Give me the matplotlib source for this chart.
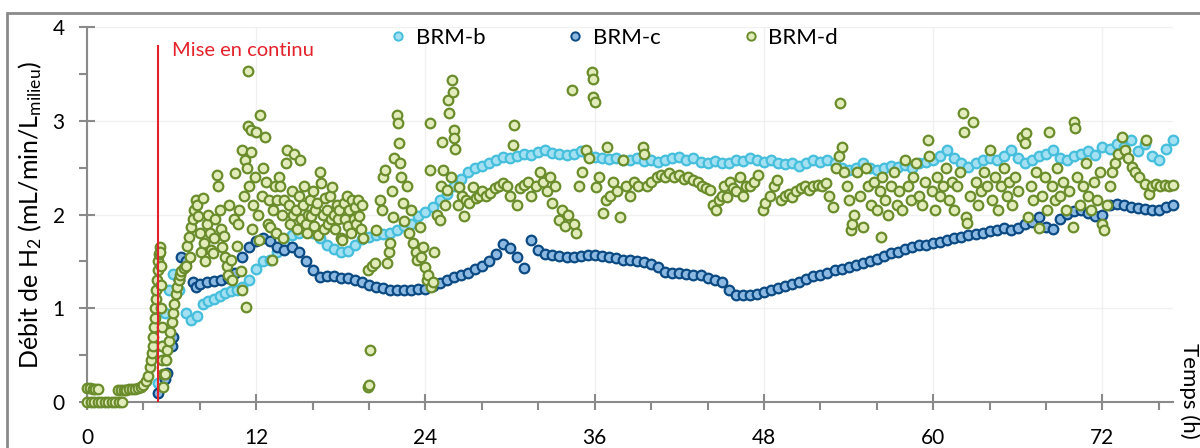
import matplotlib
matplotlib.use("Agg")
import matplotlib.pyplot as plt
from matplotlib.lines import Line2D
from matplotlib.patches import Rectangle

plt.rcParams['font.family'] = ['Lato', 'DejaVu Sans']
plt.rcParams['mathtext.default'] = 'regular'

# ---------------- data (hours, mL/min/L) ----------------
series_names = ["BRM-b", "BRM-c", "BRM-d"]

b_t = [5.0, 5.3, 5.5, 5.8, 6.1, 6.5, 7.0, 7.4, 7.8, 8.2, 8.6, 9.0, 9.4, 9.8, 10.2, 10.6, 11.0, 11.5,
       12, 12.5, 13, 13.5, 14, 14.5, 15, 15.5, 16, 16.5, 17, 17.5, 18, 18.5, 19, 19.5, 20, 20.5, 21, 21.5,
       22, 22.5, 23, 23.5, 24, 24.5, 25, 25.5, 26, 26.5, 27, 27.5, 28, 28.5, 29, 29.5, 30, 30.5, 31, 31.5,
       32, 32.5, 33, 33.5, 34, 34.5, 35, 35.5, 36, 36.5, 37, 37.5, 38, 38.5, 39, 39.5, 40, 40.5, 41, 41.5,
       42, 42.5, 43, 43.5, 44, 44.5, 45, 45.5, 46, 46.5, 47, 47.5, 48, 48.5, 49, 49.5, 50, 50.5, 51, 51.5,
       52, 52.5, 53, 53.5, 54, 54.5, 55, 55.5, 56, 56.5, 57, 57.5, 58, 58.5, 59, 59.5, 60, 60.5, 61, 61.5,
       62, 62.5, 63, 63.5, 64, 64.5, 65, 65.5, 66, 66.5, 67, 67.5, 68, 68.5, 69, 69.5, 70, 70.5, 71, 71.5,
       72, 72.5, 73, 73.5, 74, 74.5, 75, 75.5, 76, 76.5, 77]
b_v = [0.20, 0.60, 0.95, 1.20, 1.37, 1.20, 0.95, 0.87, 0.92, 1.05, 1.08, 1.10, 1.13, 1.16, 1.18, 1.20, 1.23, 1.30,
       1.42, 1.50, 1.52, 1.60, 1.70, 1.78, 1.80, 1.82, 1.80, 1.75, 1.68, 1.63, 1.60, 1.61, 1.68, 1.74, 1.76, 1.78, 1.79, 1.80,
       1.84, 1.88, 1.90, 1.98, 2.03, 2.08, 2.15, 2.22, 2.30, 2.38, 2.45, 2.50, 2.52, 2.55, 2.58, 2.61, 2.60, 2.62, 2.65, 2.63,
       2.67, 2.69, 2.66, 2.65, 2.63, 2.65, 2.68, 2.64, 2.61, 2.60, 2.59, 2.60, 2.58, 2.58, 2.60, 2.57, 2.58, 2.56, 2.58, 2.60,
       2.61, 2.58, 2.60, 2.56, 2.55, 2.57, 2.55, 2.55, 2.58, 2.57, 2.60, 2.58, 2.56, 2.58, 2.55, 2.54, 2.55, 2.52, 2.55, 2.58,
       2.56, 2.58, 2.55, 2.50, 2.47, 2.50, 2.55, 2.50, 2.48, 2.50, 2.52, 2.51, 2.53, 2.50, 2.55, 2.56, 2.58, 2.62, 2.69, 2.60,
       2.55, 2.51, 2.55, 2.58, 2.60, 2.58, 2.62, 2.69, 2.60, 2.55, 2.58, 2.62, 2.65, 2.69, 2.60, 2.58, 2.62, 2.65, 2.68, 2.63,
       2.72, 2.70, 2.75, 2.72, 2.79, 2.68, 2.75, 2.62, 2.58, 2.70, 2.79]

c_t = [5.0, 5.5, 5.7, 6.0, 6.1, 6.5, 6.7, 7.0, 7.5, 7.7, 8, 8.5, 9, 9.5, 10, 10.5, 11, 11.5,
       12, 12.5, 13, 13.5, 14, 14.5, 15, 15.5, 16, 16.5, 17, 17.5, 18, 18.5, 19, 19.5, 20, 20.5, 21, 21.5,
       22, 22.5, 23, 23.5, 24, 24.5, 25, 25.5, 26, 26.5, 27, 27.5, 28, 28.5, 29, 29.5, 30, 30.5, 31, 31.5,
       32, 32.5, 33, 33.5, 34, 34.5, 35, 35.5, 36, 36.5, 37, 37.5, 38, 38.5, 39, 39.5, 40, 40.5, 41, 41.5,
       42, 42.5, 43, 43.5, 44, 44.5, 45, 45.5, 46, 46.5, 47, 47.5, 48, 48.5, 49, 49.5, 50, 50.5, 51, 51.5,
       52, 52.5, 53, 53.5, 54, 54.5, 55, 55.5, 56, 56.5, 57, 57.5, 58, 58.5, 59, 59.5, 60, 60.5, 61, 61.5,
       62, 62.5, 63, 63.5, 64, 64.5, 65, 65.5, 66, 66.5, 67, 67.5, 68, 68.5, 69, 69.5, 70, 70.5, 71, 71.5,
       72, 72.5, 73, 73.5, 74, 74.5, 75, 75.5, 76, 76.5, 77]
c_v = [0.10, 0.25, 0.31, 0.60, 0.69, 1.30, 1.55, 1.50, 1.28, 1.23, 1.26, 1.28, 1.29, 1.30, 1.32, 1.38, 1.55, 1.65,
       1.72, 1.75, 1.72, 1.65, 1.62, 1.65, 1.60, 1.50, 1.41, 1.33, 1.34, 1.34, 1.32, 1.32, 1.30, 1.28, 1.25, 1.23, 1.22, 1.20,
       1.19, 1.19, 1.20, 1.21, 1.21, 1.24, 1.27, 1.30, 1.33, 1.36, 1.38, 1.42, 1.45, 1.50, 1.58, 1.69, 1.64, 1.55, 1.43, 1.73,
       1.62, 1.58, 1.57, 1.56, 1.55, 1.55, 1.56, 1.57, 1.57, 1.56, 1.55, 1.54, 1.52, 1.52, 1.50, 1.49, 1.47, 1.44, 1.39, 1.38,
       1.38, 1.37, 1.36, 1.35, 1.32, 1.30, 1.28, 1.20, 1.14, 1.14, 1.14, 1.15, 1.17, 1.19, 1.22, 1.24, 1.26, 1.28, 1.31, 1.34,
       1.36, 1.38, 1.41, 1.42, 1.44, 1.46, 1.48, 1.50, 1.53, 1.56, 1.59, 1.60, 1.63, 1.65, 1.67, 1.68, 1.70, 1.71, 1.73, 1.75,
       1.76, 1.78, 1.79, 1.80, 1.82, 1.84, 1.86, 1.83, 1.86, 1.90, 1.92, 1.97, 1.87, 1.85, 1.95, 2.01, 2.04, 2.05, 2.02, 1.98,
       2.00, 2.10, 2.11, 2.10, 2.08, 2.07, 2.06, 2.05, 2.05, 2.08, 2.10]

d_t = [0, 0.25, 0.5, 0.75, 1.0, 1.25, 1.5, 1.75, 2.0, 2.25, 2.5,
       0, 0.2, 0.4, 0.6, 0.8,
       2.2, 2.4, 2.6, 2.8, 3.0, 3.2, 3.4, 3.6, 3.8, 4.0, 4.2, 4.35, 4.45, 4.55, 4.6, 4.65, 4.7, 4.75, 4.8, 4.83,
       4.87, 4.9, 4.95, 5.0, 5.05, 5.1, 5.15, 5.2,
       5.22, 5.25, 5.28, 5.3, 5.33, 5.35, 5.38, 5.4,
       5.5, 5.6, 5.7, 5.8, 5.9, 6.0, 6.1, 6.2, 6.3, 6.4, 6.5, 6.6, 6.7, 6.85, 7.0,
       7.1, 7.2, 7.3, 7.4, 7.5, 7.6, 7.7, 7.8, 7.9, 8.0, 8.1, 8.2, 8.3, 8.4, 8.5, 8.6, 8.7, 8.8, 8.9, 9.0,
       9.1, 9.2, 9.3, 9.4, 9.5, 9.6, 9.7, 9.8, 9.9, 10.0, 10.1, 10.2, 10.3, 10.4, 10.5, 10.6, 10.7, 10.8, 10.9,
       11.0, 11.0, 11.1, 11.2, 11.3, 11.35, 11.4, 11.45, 11.5, 11.6, 11.6, 11.7, 11.8, 11.9, 12.0, 12.1, 12.2,
       12.3, 12.4, 12.5, 12.6, 12.7, 12.8, 12.9, 13.0, 13.1, 13.2, 13.3, 13.4, 13.5, 13.6, 13.7, 13.8, 13.9,
       14.0, 14.1, 14.2, 14.3, 14.4, 14.5, 14.6, 14.7, 14.8, 14.9, 15.0, 15.1, 15.2, 15.3, 15.4, 15.5, 15.6,
       15.7, 15.8, 15.9, 16.0, 16.1, 16.2, 16.3, 16.4, 16.5, 16.6, 16.7, 16.8, 16.9, 17.0, 17.1, 17.2, 17.3,
       17.4, 17.5, 17.6, 17.7, 17.8, 17.9, 18.0, 18.1, 18.2, 18.3, 18.4, 18.5, 18.6, 18.7, 18.8, 18.9, 19.0,
       19.1, 19.2, 19.3, 19.4, 19.5, 19.6,
       19.9, 19.95, 20.0, 20.05, 20.2, 20.4, 20.5,
       20.8, 20.9, 21.0, 21.1, 21.3, 21.4, 21.5, 21.6, 21.7, 21.8, 22.0, 22.05, 22.1, 22.2, 22.25, 22.4, 22.5,
       22.7, 22.8, 23.0, 23.1, 23.3, 23.4, 23.6, 23.7, 23.8, 24.0, 24.1, 24.2, 24.3, 24.35, 24.4, 24.5, 24.6,
       24.8, 25.0, 25.1, 25.2, 25.25, 25.4, 25.5, 25.6, 25.65, 25.8, 25.9, 25.95, 26.0, 26.05, 26.1, 26.3, 26.4,
       26.6, 26.7, 26.9, 27.1, 27.4, 27.6, 27.8, 28.0, 28.3, 28.6, 28.9, 29.2, 29.5, 29.8, 30.0, 30.2, 30.3,
       30.5, 30.7, 31.0, 31.3, 31.5, 31.8, 32.1, 32.3, 32.6, 32.8, 33.0, 33.2, 33.5, 33.7, 33.9, 34.1, 34.4,
       34.5, 34.7, 34.9, 35.1, 35.4, 35.6, 35.8, 35.85, 35.9, 36.0, 36.1, 36.3, 36.6, 36.8, 36.9, 37.1, 37.3,
       37.6, 37.8, 38.0, 38.2, 38.5, 38.8, 39.1, 39.4, 39.5, 39.7, 40.0, 40.4, 40.7, 41.0, 41.3, 41.6, 42.0,
       42.3, 42.6, 43.0, 43.3, 43.6, 43.9, 44.2, 44.4, 44.6, 44.8, 45.0, 45.2, 45.4, 45.6, 45.8, 46.0, 46.3,
       46.5, 46.7, 47.0, 47.3, 47.6, 47.9, 48.1, 48.4, 48.7, 48.9, 49.2, 49.5, 49.8, 50.0, 50.3, 50.6, 50.9,
       51.2, 51.5, 51.8, 52.1, 52.4, 52.6, 52.9, 53.1, 53.3, 53.4, 53.5, 53.7, 53.9, 54.0, 54.2, 54.25, 54.4,
       54.6, 54.8, 55.0, 55.2, 55.4, 55.6, 55.8, 56.0, 56.2, 56.3, 56.4, 56.6, 56.8, 57.0, 57.2, 57.4, 57.6,
       57.8, 58.0, 58.2, 58.4, 58.6, 58.8, 59.0, 59.2, 59.4, 59.6, 59.7, 59.9, 60.1, 60.3, 60.5, 60.7, 60.9,
       61.1, 61.3, 61.5, 61.7, 61.9, 62.1, 62.15, 62.3, 62.4, 62.6, 62.8, 63.0, 63.2, 63.4, 63.6, 63.8, 64.0,
       64.2, 64.4, 64.6, 64.8, 65.0, 65.2, 65.4, 65.6, 65.8, 66.0, 66.3, 66.5, 66.6, 66.7, 66.9, 67.1, 67.3,
       67.5, 67.7, 67.9, 68.1, 68.2, 68.4, 68.6, 68.8, 69.0, 69.2, 69.4, 69.6, 69.9, 70.0, 70.05, 70.2, 70.4,
       70.6, 70.8, 71.0, 71.2, 71.4, 71.6, 71.8, 72.0, 72.1, 72.3, 72.5, 72.7, 72.9, 73.1, 73.4, 73.6, 73.8,
       74.1, 74.3, 74.6, 75.0, 75.1, 75.3, 75.5, 75.8, 76.1, 76.4, 76.7, 77.0]
d_v = [0.0, 0.0, 0.0, 0.0, 0.0, 0.0, 0.0, 0.0, 0.0, 0.0, 0.0,
       0.15, 0.15, 0.14, 0.14, 0.14,
       0.13, 0.13, 0.13, 0.13, 0.14, 0.14, 0.14, 0.15, 0.16, 0.18, 0.22, 0.28, 0.37, 0.45, 0.52, 0.60, 0.69, 0.80, 0.90, 1.00,
       1.10, 1.20, 1.30, 1.41, 1.50, 1.58, 1.65, 1.60,
       1.45, 1.25, 1.00, 0.80, 0.60, 0.45, 0.30, 0.16,
       0.30, 0.45, 0.55, 0.65, 0.75, 0.85, 0.95, 1.05, 1.15, 1.23, 1.30, 1.36, 1.40, 1.43, 1.45,
       1.66, 1.76, 1.55, 1.87, 1.95, 2.05, 2.15, 2.10, 1.98, 1.80, 1.60, 2.18, 1.70, 1.50, 1.90, 2.00, 1.80, 1.62, 1.59, 1.75,
       1.95, 2.42, 2.30, 2.05, 1.85, 1.65, 1.77, 1.55, 1.45, 1.35, 2.10, 1.51, 1.30, 1.95, 2.44, 1.66, 1.90, 2.05, 1.40,
       1.19, 2.69, 2.20, 2.58, 1.01, 2.50, 3.53, 2.94, 2.30, 2.67, 2.90, 1.85, 2.10, 2.40, 2.88, 2.00, 1.73,
       3.06, 2.20, 2.50, 2.83, 2.35, 1.90, 2.15, 1.87, 1.51, 2.05, 2.30, 1.80, 2.15, 2.40, 2.30, 2.00, 1.75,
       2.15, 2.55, 2.69, 2.10, 1.90, 2.25, 2.00, 2.65, 2.05, 1.85, 2.20, 2.58, 1.95, 2.10, 2.30, 1.90, 1.80,
       2.00, 2.15, 1.98, 2.25, 1.88, 2.05, 2.12, 1.78, 2.45, 2.34, 2.00, 1.85, 2.18, 2.05, 1.90, 2.20, 1.95,
       2.29, 2.00, 1.85, 2.10, 1.95, 2.05, 1.75, 1.73, 2.12, 1.95, 2.20, 1.88, 2.05, 1.80, 2.15, 1.95, 2.08,
       1.90, 2.15, 1.98, 1.85, 2.10, 1.75,
       1.41, 0.16, 0.18, 0.55, 1.45, 1.48, 1.83,
       2.15, 2.05, 2.40, 2.47, 1.48, 1.60, 1.70, 2.25, 1.97, 2.60, 3.06, 2.98, 2.76, 2.55, 2.40, 2.12, 1.93,
       2.30, 1.80, 2.05, 1.70, 1.60, 1.51, 1.87, 1.55, 1.65, 1.44, 1.30, 1.35, 2.98, 2.47, 1.23, 1.28, 1.60,
       2.00, 1.94, 2.30, 2.77, 2.47, 2.10, 2.26, 3.22, 3.08, 2.40, 3.43, 3.31, 2.90, 2.82, 2.70, 2.10, 2.29,
       2.20, 1.98, 2.15, 2.12, 2.29, 2.18, 2.20, 2.25, 2.20, 2.23, 2.28, 2.30, 2.34, 2.30, 2.20, 2.74, 2.95,
       2.10, 2.28, 2.32, 2.35, 2.20, 2.30, 2.45, 2.35, 2.25, 2.40, 2.12, 2.30, 1.94, 2.05, 1.88, 2.00, 3.33,
       1.90, 1.80, 2.30, 2.45, 2.69, 2.60, 3.52, 3.45, 3.25, 3.20, 2.29, 2.40, 2.02, 2.15, 2.72, 2.20, 2.35,
       2.25, 1.97, 2.58, 2.30, 2.20, 2.35, 2.30, 2.72, 2.65, 2.30, 2.35, 2.40, 2.42, 2.40, 2.44, 2.40, 2.42,
       2.38, 2.40, 2.37, 2.35, 2.30, 2.28, 2.26, 2.10, 2.05, 2.15, 2.20, 2.30, 2.19, 2.35, 2.28, 2.25, 2.40,
       2.20, 2.30, 2.30, 2.35, 2.42, 2.05, 2.12, 2.20, 2.30, 2.37, 2.15, 2.20, 2.22, 2.19, 2.25, 2.28, 2.30,
       2.26, 2.30, 2.32, 2.30, 2.34, 2.20, 2.08, 2.50, 2.62, 3.19, 2.72, 2.45, 2.30, 2.15, 1.83, 1.90, 2.00,
       2.45, 2.20, 1.87, 2.50, 2.30, 2.10, 2.35, 2.05, 2.25, 1.76, 2.40, 2.15, 2.00, 2.30, 2.45, 2.10, 2.25,
       2.05, 2.58, 2.30, 2.15, 2.40, 2.55, 2.20, 2.10, 2.35, 2.79, 2.62, 2.25, 2.05, 2.40, 2.20, 2.30, 2.50,
       2.15, 2.35, 2.05, 2.30, 2.45, 3.08, 2.88, 1.97, 1.91, 2.20, 2.99, 2.35, 2.10, 2.25, 2.45, 2.30, 2.69,
       2.15, 2.40, 2.05, 2.30, 2.50, 2.20, 2.35, 2.10, 2.40, 2.25, 2.83, 2.76, 2.87, 1.97, 2.30, 2.15, 2.45,
       1.86, 2.20, 2.40, 2.05, 2.88, 2.30, 2.15, 2.50, 2.20, 2.35, 2.05, 2.25, 1.87, 2.99, 2.92, 2.40, 2.10,
       2.30, 2.55, 2.20, 2.05, 2.35, 2.15, 2.45, 1.90, 1.83, 2.10, 2.30, 2.45, 2.55, 2.65, 2.83, 2.69, 2.60,
       2.51, 2.45, 2.40, 2.33, 2.79, 2.22, 2.30, 2.33, 2.30, 2.32, 2.30, 2.31]

x_ticks = [0, 12, 24, 36, 48, 60, 72]
y_ticks = [0, 1, 2, 3, 4]
feed_start_h = 5.0

# ---------------- style ----------------
edge_cols = ['#45bfdc', '#0b4a83', '#6a8c2b']
face_cols = ['#a3e0f1', '#8cb9e2', '#e2ecba']
grey = '#8a8a8a'

fig = plt.figure(figsize=(12, 4.48), dpi=100)
W, H = 1200, 448
ax = fig.add_axes([87 / W, 1 - 402 / H, (1173 - 87) / W, (402 - 27) / H])
ax.set_xlim(0, 77)
ax.set_ylim(0, 4)

ms = 48
lw = 1.6
for t, v, ec, fc, z in [(b_t, b_v, edge_cols[0], face_cols[0], 2),
                        (c_t, c_v, edge_cols[1], face_cols[1], 3),
                        (d_t, d_v, edge_cols[2], face_cols[2], 4)]:
    ax.scatter(t, v, s=ms, facecolors=fc, edgecolors=ec, linewidths=lw, zorder=z, clip_on=False)

ax.plot([feed_start_h, feed_start_h], [0, 3.8], color='#e3232c', lw=1.5, zorder=6)
ax.text(feed_start_h + 1.0, 3.75, 'Mise en continu', color='#e3232c', fontsize=14.5,
        va='center', ha='left')

for s in ['top', 'right']:
    ax.spines[s].set_visible(False)
for s in ['left', 'bottom']:
    ax.spines[s].set_color(grey)
    ax.spines[s].set_linewidth(1.5)

ax.set_xticks(x_ticks)
ax.set_xticks([4, 8, 16, 20, 28, 32, 40, 44, 52, 56, 64, 68, 76], minor=True)
ax.set_yticks(y_ticks)
ax.set_yticks([0.5, 1.5, 2.5, 3.5], minor=True)
ax.tick_params(axis='x', which='major', direction='inout', length=12, width=1.5, color=grey,
               labelsize=15, pad=13)
ax.tick_params(axis='x', which='minor', direction='out', length=6, width=1.5, color=grey)
ax.tick_params(axis='y', which='major', direction='inout', length=12, width=1.5, color=grey,
               labelsize=15, pad=10)
ax.tick_params(axis='y', which='minor', direction='out', length=6, width=1.5, color=grey)
ax.grid(True, which='major', color='#f0f0f0', lw=1, zorder=0)
ax.set_axisbelow(True)

fig.text(30 / W, 1 - 215 / H, 'Débit de H$_2$ (mL/min/L$_{milieu}$)', rotation=90,
         ha='center', va='center', fontsize=18)
fig.text(1189 / W, 1 - 343 / H, 'Temps (h)', rotation=270, ha='center', va='top', fontsize=16)

handles = [Line2D([], [], ls='none', marker='o', markersize=6, markerfacecolor=fc,
                  markeredgecolor=ec, markeredgewidth=1.4) for ec, fc in zip(edge_cols, face_cols)]
fig.legend(handles, series_names, loc='center left', bbox_to_anchor=(390 / W, 1 - 38 / H),
           ncol=3, frameon=False, fontsize=16, handlelength=0.7, handletextpad=0.45,
           columnspacing=3.7, borderaxespad=0, borderpad=0)

fig.add_artist(Rectangle((7 / W, -0.1), 1.2, (H - 13) / H + 0.1, transform=fig.transFigure,
                         fill=False, edgecolor=grey, lw=2))

fig.savefig('out.png', dpi=100)
